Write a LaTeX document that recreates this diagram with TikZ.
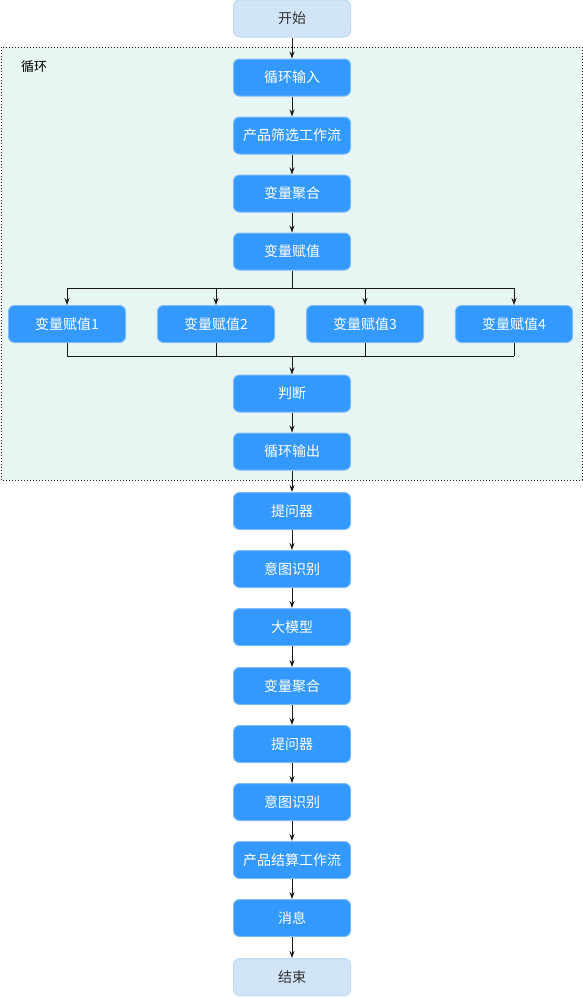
\documentclass[tikz,border=0pt]{standalone}
\usepackage{fontspec}
\setmainfont{Noto Sans CJK SC}
\usetikzlibrary{arrows.meta}
\definecolor{boxblue}{HTML}{3399FF}
\definecolor{boxedge}{HTML}{7DBBFB}
\definecolor{termfill}{HTML}{D2E5F8}
\definecolor{termedge}{HTML}{C2DBF4}
\definecolor{termtext}{HTML}{333333}
\definecolor{loopfill}{HTML}{E8F6F3}
\definecolor{linecol}{HTML}{1A1A1A}
\begin{document}
\begin{tikzpicture}[x=1pt,y=-1pt,
  proc/.style={rectangle, rounded corners=6pt, fill=boxblue, draw=boxedge, line width=1pt, text=white, minimum width=117pt, minimum height=37pt, inner sep=0pt, font=\fontsize{14}{16}\selectfont},
  term/.style={proc, fill=termfill, draw=termedge, text=termtext},
  arr/.style={-{Stealth[length=7pt,width=5pt]}, line width=0.9pt, draw=linecol},
  ln/.style={line width=0.9pt, draw=linecol}]
\useasboundingbox (0,0) rectangle (583,997);
\fill[white] (0,0) rectangle (583,997);
% loop region
\draw[fill=loopfill, draw=linecol, line width=1pt, dash pattern=on 1pt off 2pt] (1,47) rectangle (582,480);
\node[anchor=west, font=\fontsize{13}{15}\selectfont, text=black, inner sep=0pt] (lbl) at (21,67) {循环};
% main column
\node[term] (s) at (292,18.5) {开始};
\node[proc] (n1) at (292,77.5) {循环输入};
\node[proc] (n2) at (292,135.5) {产品筛选工作流};
\node[proc] (n3) at (292,193.5) {变量聚合};
\node[proc] (n4) at (292,251.5) {变量赋值};
\node[proc] (b1) at (67,324) {变量赋值1};
\node[proc] (b2) at (216,324) {变量赋值2};
\node[proc] (b3) at (365,324) {变量赋值3};
\node[proc] (b4) at (514,324) {变量赋值4};
\node[proc] (n5) at (292,393.5) {判断};
\node[proc] (n6) at (292,451.5) {循环输出};
\node[proc] (n7) at (292,511) {提问器};
\node[proc] (n8) at (292,569) {意图识别};
\node[proc] (n9) at (292,627) {大模型};
\node[proc] (n10) at (292,686) {变量聚合};
\node[proc] (n11) at (292,744) {提问器};
\node[proc] (n12) at (292,802) {意图识别};
\node[proc] (n13) at (292,860) {产品结算工作流};
\node[proc] (n14) at (292,918) {消息};
\node[term] (e) at (292,977) {结束};
% connectors
\draw[arr] (s) -- (n1);
\draw[arr] (n1) -- (n2);
\draw[arr] (n2) -- (n3);
\draw[arr] (n3) -- (n4);
\coordinate (bj) at (292,288);
\coordinate (mj) at (292,356);
\draw[ln] (n4.south) -- (bj);
\draw[ln] (bj -| b1) -- (bj -| b4);
\foreach \b in {b1,b2,b3,b4}{
  \draw[arr] (bj -| \b) -- (\b.north);
  \draw[ln] (\b.south) -- (mj -| \b);
}
\draw[ln] (mj -| b1) -- (mj -| b4);
\draw[arr] (mj) -- (n5.north);
\draw[arr] (n5) -- (n6);
\draw[arr] (n6) -- (n7);
\draw[arr] (n7) -- (n8);
\draw[arr] (n8) -- (n9);
\draw[arr] (n9) -- (n10);
\draw[arr] (n10) -- (n11);
\draw[arr] (n11) -- (n12);
\draw[arr] (n12) -- (n13);
\draw[arr] (n13) -- (n14);
\draw[arr] (n14) -- (e);
\end{tikzpicture}
\end{document}
